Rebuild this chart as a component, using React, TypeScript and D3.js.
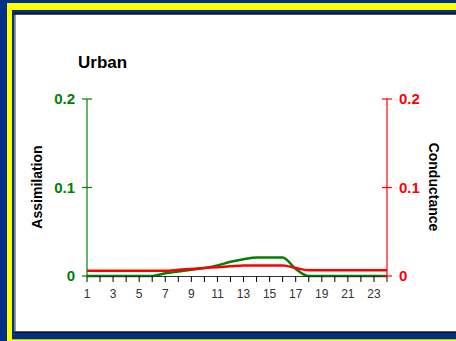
import React from "react";
import * as d3 from "d3";

const hours = [1,2,3,4,5,6,7,8,9,10,11,12,13,14,15,16,17,18,19,20,21,22,23,24];
const assimilation = [0,0,0,0,0,0,0.003,0.005,0.007,0.009,0.012,0.016,0.019,0.021,0.021,0.021,0.008,0,0,0,0,0,0,0];
const conductance = [0.006,0.006,0.006,0.006,0.006,0.006,0.006,0.007,0.008,0.009,0.010,0.011,0.012,0.012,0.012,0.012,0.009,0.0065,0.0065,0.0065,0.0065,0.0065,0.0065,0.0065];
const xTickLabels = [1,3,5,7,9,11,13,15,17,19,21,23];
const yTicks = [0, 0.1, 0.2];
const title = "Urban";
const leftTitle = "Assimilation";
const rightTitle = "Conductance";

const W = 456, H = 341;
const BLUE = "#00308a";
const YELLOW = "#ffff00";
const GREEN = "#008000";
const RED = "#ff0000";

export default function App() {
  const x = d3.scaleLinear().domain([1, 24]).range([87, 387]);
  const yL = d3.scaleLinear().domain([0, 0.2]).range([276, 99]);
  const yR = d3.scaleLinear().domain([0, 0.2]).range([276, 99]);
  const lineA = d3.line<number>().x((_, i) => x(hours[i])).y((d) => yL(d)).curve(d3.curveMonotoneX);
  const lineC = d3.line<number>().x((_, i) => x(hours[i])).y((d) => yR(d)).curve(d3.curveMonotoneX);
  const font = "Arial, 'Liberation Sans', sans-serif";
  return (
    <svg width={W} height={H} style={{ position: "fixed", left: 0, top: 0 }} fontFamily={font}>
      <rect x={0} y={0} width={W} height={H} fill={BLUE} />
      <rect x={7} y={3} width={W - 7} height={7} fill={YELLOW} />
      <rect x={7} y={3} width={5} height={H - 3} fill={YELLOW} />
      <rect x={7} y={339.3} width={W - 7} height={2} fill={YELLOW} />
      <rect x={14} y={13} width={W - 14} height={320} fill="#111" />
      <rect x={14} y={14.7} width={1.3} height={317} fill="#808080" />
      <rect x={15.5} y={14.7} width={W - 15.5} height={316.6} fill="#fff" />

      <text x={78} y={68} fontSize={17} fontWeight="bold" fill="#000">{title}</text>

      {/* data lines */}
      <path d={lineA(assimilation) || ""} fill="none" stroke={GREEN} strokeWidth={2.5} />

      {/* x axis */}
      <line x1={x(1)} x2={x(24)} y1={276.5} y2={276.5} stroke="#333" strokeWidth={1.2} />
      {hours.map((h) => (
        <line key={h} x1={x(h)} x2={x(h)} y1={276} y2={282} stroke="#000" strokeWidth={1} />
      ))}
      {xTickLabels.map((h) => (
        <text key={h} x={x(h)} y={298} fontSize={12} textAnchor="middle" fill="#333">{h}</text>
      ))}

      <path d={lineC(conductance) || ""} fill="none" stroke={RED} strokeWidth={2.5} />

      {/* left axis */}
      <line x1={87} x2={87} y1={yL(0.2)} y2={yL(0)} stroke={GREEN} strokeWidth={1.2} />
      {yTicks.map((t) => (
        <g key={"l" + t}>
          <line x1={82} x2={92} y1={yL(t)} y2={yL(t)} stroke={GREEN} strokeWidth={1.2} />
          <text x={75} y={yL(t)} dy="0.36em" fontSize={15} fontWeight="bold" textAnchor="end" fill={GREEN}>{t === 0 ? "0" : String(t)}</text>
        </g>
      ))}
      <text transform={`translate(37,187) rotate(-90)`} fontSize={14} fontWeight="bold" textAnchor="middle" dominantBaseline="central" fill="#000">{leftTitle}</text>

      {/* right axis */}
      <line x1={387} x2={387} y1={yR(0.2)} y2={yR(0)} stroke={RED} strokeWidth={1.2} />
      {yTicks.map((t) => (
        <g key={"r" + t}>
          <line x1={382} x2={392} y1={yR(t)} y2={yR(t)} stroke={RED} strokeWidth={1.2} />
          <text x={399} y={yR(t)} dy="0.36em" fontSize={15} fontWeight="bold" textAnchor="start" fill={RED}>{t === 0 ? "0" : String(t)}</text>
        </g>
      ))}
      <text transform={`translate(434,187) rotate(90)`} fontSize={14} fontWeight="bold" textAnchor="middle" dominantBaseline="central" fill="#000">{rightTitle}</text>
    </svg>
  );
}
